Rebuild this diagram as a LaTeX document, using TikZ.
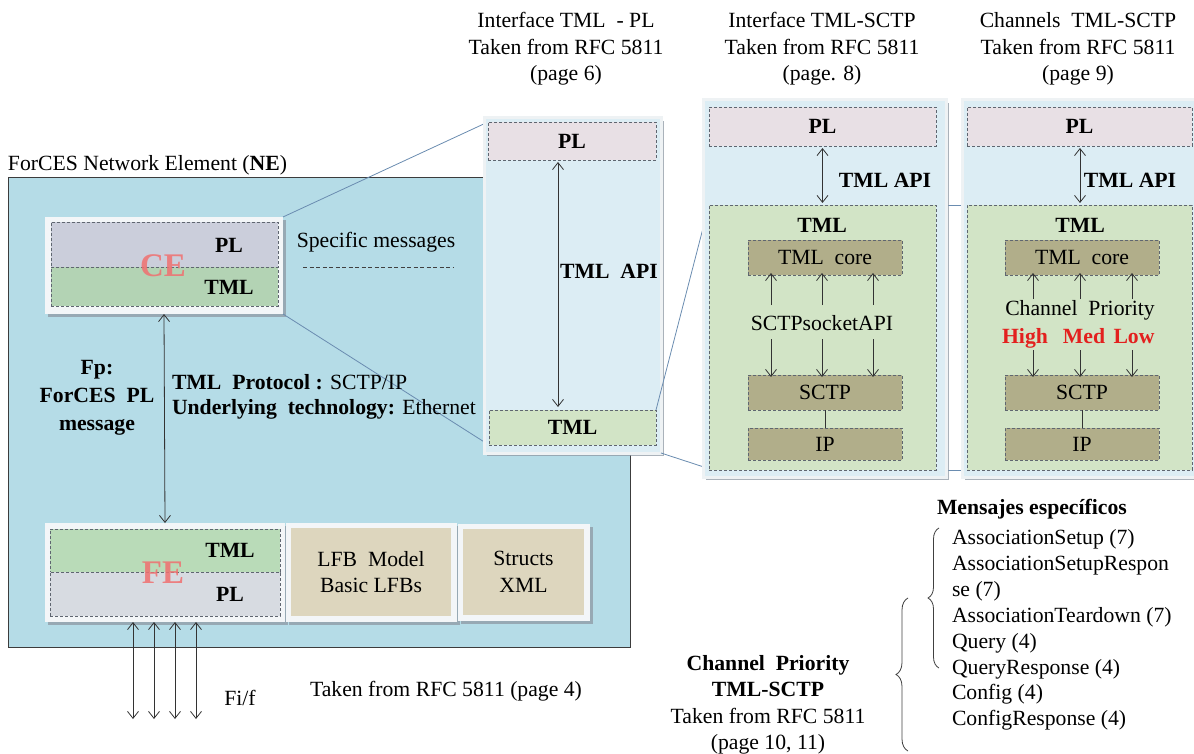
\documentclass[tikz,border=0pt]{standalone}
\usepackage{fontspec}
\setmainfont{Liberation Serif}
\usetikzlibrary{arrows.meta,shadows,decorations.pathreplacing}

\definecolor{nefill}{HTML}{B5DCE7}
\definecolor{panelfill}{HTML}{DCEDF4}
\definecolor{paneledge}{HTML}{EEF2F4}
\definecolor{framewhite}{HTML}{F3F6F8}
\definecolor{shadowgrey}{HTML}{8E98A3}
\definecolor{plpink}{HTML}{E8E0E5}
\definecolor{cepl}{HTML}{CBCEDB}
\definecolor{cetml}{HTML}{B3D3B4}
\definecolor{fetml}{HTML}{B9DBB8}
\definecolor{fepl}{HTML}{D7DBE1}
\definecolor{tmlgreen}{HTML}{D2E4C6}
\definecolor{olive}{HTML}{B1AE8A}
\definecolor{tan}{HTML}{DDD6BE}
\definecolor{zoomline}{HTML}{6A8CB0}
\definecolor{cered}{HTML}{F07070}
\definecolor{prired}{HTML}{E3201E}
\definecolor{dashgrey}{HTML}{5F6670}
\definecolor{nedge}{HTML}{3C3C3C}

\begin{document}
\begin{tikzpicture}[x=1pt,y=-1pt,
  every node/.style={font=\fontsize{21.7}{26.5}\selectfont, inner sep=0pt, outer sep=0pt},
  box/.style={anchor=north west, inner sep=0pt, outer sep=0pt},
  frame/.style={box, fill=framewhite,
    drop shadow={shadow xshift=3pt, shadow yshift=-3pt, fill=shadowgrey, opacity=.75}},
  panel/.style={box, fill=panelfill, draw=paneledge, line width=3pt,
    drop shadow={shadow xshift=3pt, shadow yshift=-3pt, fill=shadowgrey, opacity=.75}},
  dbox/.style={box, draw=dashgrey, line width=.7pt, dash pattern=on 3pt off 2pt},
  lbl/.style={font=\fontsize{21.7}{26.5}\selectfont\bfseries},
  big/.style={font=\fontsize{33}{33}\selectfont\bfseries, text=cered, opacity=.85},
  zoom/.style={draw=zoomline, line width=.8pt},
  arr/.style={draw=black!80, line width=.8pt},
  >={Straight Barb[length=7pt,width=11pt]},
]
\useasboundingbox (0,0) rectangle (1194,754);

% ---------- Network element ----------
\node[box, fill=nefill, draw=nedge, line width=1pt, minimum width=622pt, minimum height=469pt] (ne) at (8,178) {};
\node[anchor=west] (netitle) at (8,165) {ForCES Network Element (\textbf{NE})};

% zoom lines from the CE box to the first panel (drawn under the panels)
\node[frame, minimum width=238pt, minimum height=97pt] (ceframe) at (45,217) {};
\node[box, minimum width=168pt, minimum height=38pt] (pl1anchor) at (488,122) {};
\node[box, minimum width=167pt, minimum height=35pt] (tml1anchor) at (489,410) {};
\draw[zoom] (ceframe.north east) -- (pl1anchor.north west);
\draw[zoom] (ceframe.south east) -- (tml1anchor.south west);

% CE
\node[dbox, fill=cepl, minimum width=227pt, minimum height=45pt] (cepl) at (51,222) {};
\node[dbox, fill=cetml, minimum width=227pt, minimum height=39pt] (cetml) at (51,267) {};
\node[lbl] (ceplt) at (229,245) {PL};
\node[lbl] (cetmlt) at (229,287) {TML};
\node[big] (celab) at (163,266) {CE};

\node (specific) at (376,242) {Specific messages};
\coordinate (sm1) at (303,267);
\coordinate (sm2) at (453,267);
\draw[black!75, line width=.7pt, dash pattern=on 4pt off 2.5pt] (sm1) -- (sm2);

% FE, LFB model, structs
\node[frame, minimum width=240pt, minimum height=99pt] (feframe) at (45,523) {};
\node[dbox, fill=fetml, minimum width=230pt, minimum height=43pt] (fetml) at (50,529) {};
\node[dbox, fill=fepl, minimum width=230pt, minimum height=44pt] (fepl) at (50,572) {};
\node[lbl] (fetmlt) at (230,550) {TML};
\node[lbl] (feplt) at (230,594) {PL};
\node[big] (felab) at (163,573) {FE};

\node[frame, minimum width=171pt, minimum height=99pt] (lfbframe) at (286,523) {};
\node[box, fill=tan, minimum width=160pt, minimum height=88pt] (lfb) at (291,528) {};
\node[align=center] (lfbt) at (lfb.center) {LFB\ \ Model\\Basic LFBs};

\node[frame, minimum width=132pt, minimum height=97pt] (stframe) at (458,524) {};
\node[box, fill=tan, minimum width=121pt, minimum height=86pt] (st) at (463,529) {};
\node[align=center] (stt) at (st.center) {Structs\\XML};

% Fp between CE and FE
\draw[arr, <->] (ceframe.south) -- (feframe.north);
\node[lbl, align=center, font=\fontsize{21.7}{28}\selectfont\bfseries] (fp) at (97,398) {Fp:\\ForCES\ \ PL\\message};
\node[anchor=west] (proto) at (172,382) {\textbf{TML\ \ Protocol :} SCTP/IP};
\node[anchor=west] (under) at (172,409) {\textbf{Underlying\ \ technology:} Ethernet};

% Fi/f interfaces
\foreach \i/\x in {1/133,2/154,3/175,4/196}{
  \coordinate (fi\i) at (\x,719);
  \draw[arr, <->] (fi\i |- feframe.south) -- (fi\i);
}
\node (fif) at (240,698) {Fi/f};
\node (src4) at (446,691) {Taken from RFC 5811 (page 4)};

% ---------- Panel 1: interface TML - PL ----------
\node[align=center] (h1) at (566,49) {Interface TML\ \ - PL\\Taken from RFC 5811\\(page 6)};
\node[panel, minimum width=177pt, minimum height=335pt] (p1) at (484,118) {};
\node[dbox, fill=plpink, minimum width=168pt, minimum height=38pt] (pl1) at (488,122) {};
\node[lbl] at (pl1.center) {PL};
\node[dbox, fill=tmlgreen, minimum width=167pt, minimum height=35pt] (tml1) at (489,410) {};
\node[lbl] at (tml1.center) {TML};
\coordinate (a1) at (558,0);
\draw[arr, <->] ([yshift=-2pt]a1 |- pl1.south) -- ([yshift=3pt]a1 |- tml1.north);
\node[lbl] (api1) at (609,271) {TML\ \ API};

% zoom lines from panel 1 to panel 2, and panel 2 to panel 3
\node[box, minimum width=227pt, minimum height=265pt] (tml2anchor) at (709,205) {};
\node[box, minimum width=225pt, minimum height=265pt] (tml3anchor) at (967,205) {};
\draw[zoom] (tml1.north east) -- (tml2anchor.north west);
\draw[zoom] (p1.south east) -- ([xshift=4pt]tml2anchor.south west);
\draw[zoom] (tml2anchor.north east) -- (tml3anchor.north west);
\draw[zoom] (tml2anchor.south east) -- (tml3anchor.south west);

% ---------- Panel 2: interface TML - SCTP ----------
\node[align=center] (h2) at (822,49) {Interface TML-SCTP\\Taken from RFC 5811\\(page. 8)};
\node[panel, minimum width=243pt, minimum height=377pt] (p2) at (703,100) {};
\node[dbox, fill=plpink, minimum width=227pt, minimum height=39pt] (pl2) at (709,107) {};
\node[lbl] at (pl2.center) {PL};
\node[dbox, fill=tmlgreen, minimum width=227pt, minimum height=265pt] (tml2) at (709,205) {};
\node[lbl] (tml2t) at (822,225) {TML};
\node[dbox, fill=olive, minimum width=154pt, minimum height=35pt] (core2) at (748,240) {};
\node at (core2.center) {TML\ \ core};
\node[dbox, fill=olive, minimum width=154pt, minimum height=35pt] (sctp2) at (748,375) {};
\node at (sctp2.center) {SCTP};
\node[dbox, fill=olive, minimum width=154pt, minimum height=32pt] (ip2) at (748,428) {};
\node at (ip2.center) {IP};
\draw[arr] (sctp2.south) -- (ip2.north);
\draw[arr, <->] ([yshift=-2pt]pl2.south) -- ([yshift=2pt]tml2.north);
\node[lbl] (api2) at (885,180) {TML API};
\node (sock) at (822,323) {SCTPsocketAPI};
\foreach \i/\x in {1/771,2/822,3/873}{
  \coordinate (su\i) at (\x,305);
  \coordinate (sd\i) at (\x,339);
  \draw[arr, ->] (su\i) -- ([yshift=2pt]su\i |- core2.south);
  \draw[arr, ->] (sd\i) -- ([yshift=-2pt]sd\i |- sctp2.north);
}

% ---------- Panel 3: channels TML - SCTP ----------
\node[align=center] (h3) at (1078,49) {Channels\ \ TML-SCTP\\Taken from RFC 5811\\(page 9)};
\node[panel, minimum width=233pt, minimum height=377pt] (p3) at (962,100) {};
\node[dbox, fill=plpink, minimum width=225pt, minimum height=39pt] (pl3) at (967,107) {};
\node[lbl] at (pl3.center) {PL};
\node[dbox, fill=tmlgreen, minimum width=225pt, minimum height=265pt] (tml3) at (967,205) {};
\node[lbl] (tml3t) at (1080,225) {TML};
\node[dbox, fill=olive, minimum width=154pt, minimum height=35pt] (core3) at (1005,240) {};
\node at (core3.center) {TML\ \ core};
\node[dbox, fill=olive, minimum width=154pt, minimum height=35pt] (sctp3) at (1005,375) {};
\node at (sctp3.center) {SCTP};
\node[dbox, fill=olive, minimum width=154pt, minimum height=32pt] (ip3) at (1005,428) {};
\node at (ip3.center) {IP};
\draw[arr] (sctp3.south) -- (ip3.north);
\coordinate (a3) at (1080,0);
\draw[arr, <->] ([yshift=-2pt]a3 |- pl3.south) -- ([yshift=2pt]a3 |- tml3.north);
\node[lbl] (api3) at (1130,180) {TML API};
\node (chp) at (1080,310) {Channel\ \ Priority};
\node[lbl, text=prired, anchor=base] (high) at (1025,343) {High};
\node[lbl, text=prired, anchor=base] (med) at (1084,343) {Med};
\node[lbl, text=prired, anchor=base] (low) at (1134,343) {Low};
\foreach \i/\x in {1/1033,2/1080,3/1132}{
  \coordinate (cu\i) at (\x,299);
  \coordinate (cd\i) at (\x,350);
  \draw[arr, ->] (cu\i) -- ([yshift=2pt]cu\i |- core3.south);
  \draw[arr, ->] (cd\i) -- ([yshift=-2pt]cd\i |- sctp3.north);
}

% ---------- Specific messages and channel priority ----------
\node[lbl, anchor=west] (mens) at (937,509) {Mensajes específicos};
\node[align=left, anchor=west, font=\fontsize{21.7}{25.9}\selectfont] (msgs) at (952,630)
  {AssociationSetup (7)\\AssociationSetupRespon\\se (7)\\AssociationTeardown (7)\\Query (4)\\QueryResponse (4)\\Config (4)\\ConfigResponse (4)};
\coordinate (bu1) at (939,668);
\coordinate (bu2) at (939,528);
\draw[black!75, line width=.8pt, decorate, decoration={brace, amplitude=11pt}] (bu1) -- (bu2);
\coordinate (bl1) at (908,751);
\coordinate (bl2) at (908,598);
\draw[black!75, line width=.8pt, decorate, decoration={brace, amplitude=12pt}] (bl1) -- (bl2);
\node[align=center] (chsrc) at (768,705)
  {\textbf{Channel\ \ Priority}\\\textbf{TML-SCTP}\\Taken from RFC 5811\\(page 10, 11)};

\end{tikzpicture}
\end{document}
